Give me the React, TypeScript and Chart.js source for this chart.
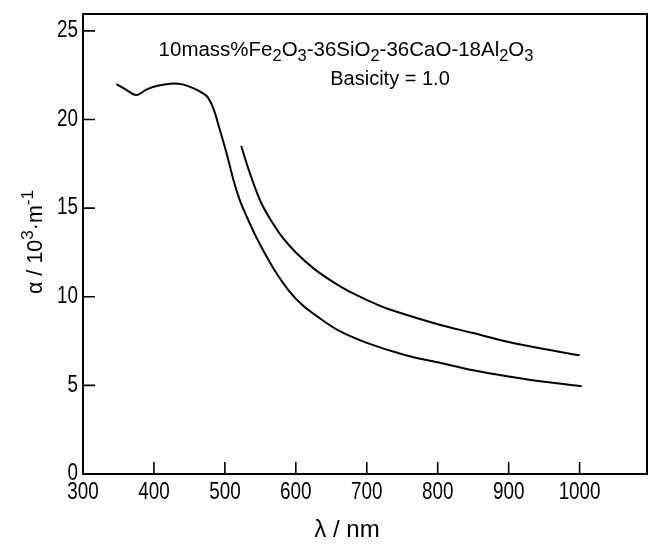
import React, { useEffect, useRef } from "react";
import { Chart, registerables } from "chart.js";

Chart.register(...registerables);

// Lower curve (full spectrum)
const lowerWavelength = [347, 360, 375, 390, 405, 423, 440, 456, 468, 476, 484, 493, 503, 512, 521, 531, 545, 557, 570, 590, 610, 628, 660, 700, 755, 800, 850, 900, 950, 1003];
const lowerAlpha = [22.0, 21.7, 21.38, 21.7, 21.9, 22.02, 21.98, 21.75, 21.5, 21.25, 20.6, 19.4, 18.0, 16.6, 15.45, 14.5, 13.3, 12.4, 11.5, 10.35, 9.5, 8.95, 8.1, 7.4, 6.7, 6.3, 5.85, 5.5, 5.2, 4.95];

// Upper curve (starts at ~523 nm)
const upperWavelength = [523, 535, 550, 565, 582, 600, 625, 650, 680, 718, 750, 800, 850, 900, 950, 1000];
const upperAlpha = [18.5, 17.0, 15.4, 14.3, 13.3, 12.5, 11.6, 10.9, 10.2, 9.5, 9.05, 8.45, 7.95, 7.45, 7.05, 6.7];

const xTickValues = [300, 400, 500, 600, 700, 800, 900, 1000];
const yTickValues = [0, 5, 10, 15, 20, 25];

const X_MIN = 300;
const X_MAX = 1095;
const Y_MIN = 0;
const Y_MAX = 25.95;

const FONT = "'Liberation Sans', Arial, sans-serif";

type Part = { t: string; s?: "sub" | "sup" };

const titleLine1: Part[] = [
  { t: "10mass%Fe" }, { t: "2", s: "sub" }, { t: "O" }, { t: "3", s: "sub" },
  { t: "-36SiO" }, { t: "2", s: "sub" }, { t: "-36CaO-18Al" }, { t: "2", s: "sub" },
  { t: "O" }, { t: "3", s: "sub" },
];
const titleLine2: Part[] = [{ t: "Basicity = 1.0" }];
const yTitle: Part[] = [{ t: "α / 10" }, { t: "3", s: "sup" }, { t: "·m" }, { t: "-1", s: "sup" }];
const xTitle: Part[] = [{ t: "λ / nm" }];

function partFont(size: number, p: Part) {
  const sz = p.s ? size * 0.8 : size;
  return `${sz}px ${FONT}`;
}

function measureRich(ctx: CanvasRenderingContext2D, parts: Part[], size: number) {
  let w = 0;
  for (const p of parts) {
    ctx.font = partFont(size, p);
    w += ctx.measureText(p.t).width;
  }
  return w;
}

function drawRich(ctx: CanvasRenderingContext2D, parts: Part[], cx: number, cy: number, size: number) {
  const total = measureRich(ctx, parts, size);
  let x = cx - total / 2;
  ctx.textAlign = "left";
  ctx.textBaseline = "middle";
  for (const p of parts) {
    ctx.font = partFont(size, p);
    let dy = 0;
    if (p.s === "sub") dy = size * 0.33;
    if (p.s === "sup") dy = -size * 0.38;
    ctx.fillText(p.t, x, cy + dy);
    x += ctx.measureText(p.t).width;
  }
}

function drawCondensed(ctx: CanvasRenderingContext2D, text: string, x: number, y: number, align: CanvasTextAlign, size: number, sx: number) {
  ctx.save();
  ctx.translate(x, y);
  ctx.scale(sx, 1);
  ctx.font = `${size}px ${FONT}`;
  ctx.textAlign = align;
  ctx.textBaseline = "middle";
  ctx.fillText(text, 0, 0);
  ctx.restore();
}

const framePlugin = {
  id: "frameAndText",
  afterDraw(chart: any) {
    const ctx: CanvasRenderingContext2D = chart.ctx;
    const { left, right, top, bottom } = chart.chartArea;
    const xs = chart.scales.x;
    const ys = chart.scales.y;
    ctx.save();
    ctx.strokeStyle = "#000";
    ctx.lineWidth = 2;
    ctx.beginPath();
    ctx.rect(left, top, right - left, bottom - top);
    ctx.stroke();
    ctx.lineWidth = 1.6;
    ctx.beginPath();
    for (const v of xTickValues) {
      const px = xs.getPixelForValue(v);
      ctx.moveTo(px, bottom);
      ctx.lineTo(px, bottom - 12);
    }
    for (const v of yTickValues) {
      const py = ys.getPixelForValue(v);
      ctx.moveTo(left, py);
      ctx.lineTo(left + 12, py);
    }
    ctx.stroke();

    ctx.fillStyle = "#000";
    for (const v of xTickValues) {
      drawCondensed(ctx, String(v), xs.getPixelForValue(v), bottom + 19, "center", 23, 0.82);
    }
    for (const v of yTickValues) {
      drawCondensed(ctx, String(v), left - 5, ys.getPixelForValue(v), "right", 23, 0.82);
    }

    drawRich(ctx, titleLine1, 346, 50, 20.5);
    drawRich(ctx, titleLine2, 390, 79, 20);
    drawRich(ctx, xTitle, 347, 530, 24);

    ctx.save();
    ctx.translate(36, 242);
    ctx.rotate(-Math.PI / 2);
    drawRich(ctx, yTitle, 0, 0, 21.5);
    ctx.restore();
    ctx.restore();
  },
};

export default function App() {
  const ref = useRef<HTMLCanvasElement | null>(null);

  useEffect(() => {
    if (!ref.current) return;
    const lowerPts = lowerWavelength.map((x, i) => ({ x, y: lowerAlpha[i] }));
    const upperPts = upperWavelength.map((x, i) => ({ x, y: upperAlpha[i] }));
    const chart = new Chart(ref.current, {
      type: "scatter",
      data: {
        datasets: [
          { data: lowerPts, showLine: true, borderColor: "#000", borderWidth: 2, pointRadius: 0, tension: 0.35, fill: false },
          { data: upperPts, showLine: true, borderColor: "#000", borderWidth: 2, pointRadius: 0, tension: 0.35, fill: false },
        ],
      },
      options: {
        animation: false,
        responsive: false,
        maintainAspectRatio: false,
        layout: { padding: { top: 14, right: 3, left: 0, bottom: 0 } },
        plugins: { legend: { display: false }, tooltip: { enabled: false }, title: { display: false } },
        scales: {
          x: {
            type: "linear",
            min: X_MIN,
            max: X_MAX,
            afterBuildTicks: (s: any) => { s.ticks = xTickValues.map((v) => ({ value: v })); },
            afterFit: (s: any) => { s.height = 73; },
            grid: { display: false, drawTicks: false },
            border: { display: false },
            ticks: { display: false },
          },
          y: {
            type: "linear",
            min: Y_MIN,
            max: Y_MAX,
            afterBuildTicks: (s: any) => { s.ticks = yTickValues.map((v) => ({ value: v })); },
            afterFit: (s: any) => { s.width = 83; },
            grid: { display: false, drawTicks: false },
            border: { display: false },
            ticks: { display: false },
          },
        },
      },
      plugins: [framePlugin],
    } as any);
    return () => chart.destroy();
  }, []);

  return (
    <div style={{ position: "absolute", left: 0, top: 0, width: 650, height: 547, background: "#fff" }}>
      <canvas ref={ref} width={650} height={547} style={{ width: 650, height: 547 }} />
    </div>
  );
}
